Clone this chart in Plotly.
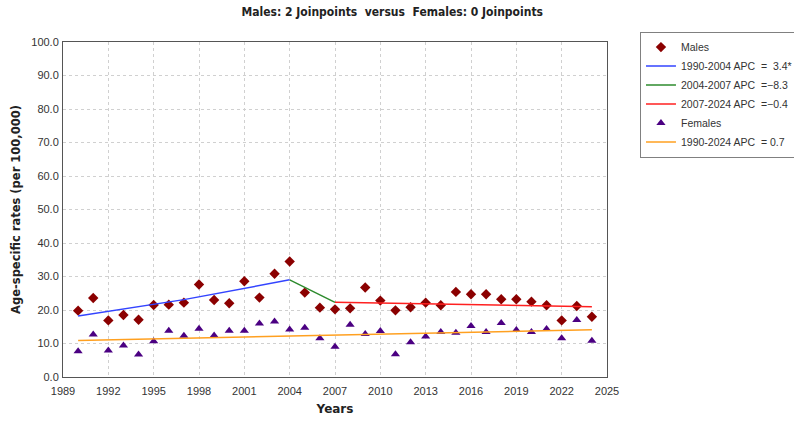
import plotly.graph_objects as go

years = list(range(1990, 2025))
males = [19.8, 23.6, 16.9, 18.5, 17.1, 21.5, 21.6, 22.2, 27.6, 23.0,
         22.0, 28.6, 23.7, 30.8, 34.5, 25.2, 20.7, 20.2, 20.5, 26.7,
         22.8, 19.9, 20.8, 22.2, 21.4, 25.4, 24.7, 24.7, 23.2, 23.2,
         22.5, 21.4, 16.9, 21.2, 18.0]
females = [7.7, 12.7, 7.9, 9.4, 6.7, 10.7, 13.8, 12.3, 14.4, 12.4,
           13.8, 13.8, 16.0, 16.6, 14.2, 14.7, 11.6, 9.0, 15.6, 12.8,
           13.7, 6.8, 10.4, 12.1, 13.4, 13.2, 15.2, 13.4, 16.1, 14.0,
           13.4, 14.3, 11.6, 17.0, 10.8]

# fitted joinpoint segments
seg1_x, seg1_y = [1990, 1997, 2004], [18.2, 23.1, 29.0]
seg2_x, seg2_y = [2004, 2007], [29.0, 22.3]
seg3_x, seg3_y = [2007, 2024], [22.3, 21.0]
fem_x, fem_y = [1990, 2024], [10.9, 14.1]

seg_names = ["1990-2004 APC  =  3.4*", "2004-2007 APC  =\u22128.3",
             "2007-2024 APC  =\u22120.4"]
fem_name = "1990-2024 APC  = 0.7"
x_ticks = list(range(1989, 2026, 3))

font_ticks = dict(family="Liberation Sans, Arial", size=11, color="#333333")

fig = go.Figure()
fig.add_trace(go.Scatter(x=years, y=males, mode="markers", name="Males",
                         marker=dict(symbol="diamond", size=8, color="#8B0000")))
fig.add_trace(go.Scatter(x=seg1_x, y=seg1_y, mode="lines", name=seg_names[0],
                         line=dict(color="#3344ff", width=1.5)))
fig.add_trace(go.Scatter(x=seg2_x, y=seg2_y, mode="lines", name=seg_names[1],
                         line=dict(color="#2e8b2e", width=1.5)))
fig.add_trace(go.Scatter(x=seg3_x, y=seg3_y, mode="lines", name=seg_names[2],
                         line=dict(color="#ff2020", width=1.5)))
fig.add_trace(go.Scatter(x=years, y=females, mode="markers", name="Females",
                         marker=dict(symbol="triangle-up", size=8, color="#4B0082")))
fig.add_trace(go.Scatter(x=fem_x, y=fem_y, mode="lines", name=fem_name,
                         line=dict(color="#FFA020", width=1.5)))

fig.update_layout(
    width=794, height=421,
    margin=dict(l=63, r=187, t=42, b=44, autoexpand=False),
    paper_bgcolor="white", plot_bgcolor="white",
    title=dict(text="<b>Males: 2 Joinpoints  versus  Females: 0 Joinpoints</b>",
               x=0.494, xref="container", xanchor="center",
               y=0.972, yanchor="middle",
               font=dict(family="DejaVu Sans Condensed, DejaVu Sans", size=12, color="#222222")),
    legend=dict(xref="container", yref="container", x=0.806, y=0.925,
                xanchor="left", yanchor="top",
                bordercolor="#808080", borderwidth=1, bgcolor="white",
                font=dict(family="Liberation Sans, Arial", size=10.5, color="#333333"),
                tracegroupgap=0, itemwidth=30),
    showlegend=True,
)
fig.update_xaxes(range=[1989, 2025], tickvals=x_ticks, ticktext=[str(t) for t in x_ticks],
                 showgrid=True, gridcolor="#d0d0d0", griddash="dot", gridwidth=1,
                 showline=True, linecolor="#555555", linewidth=1, mirror=True,
                 ticks="", ticklabelstandoff=4, tickfont=font_ticks, zeroline=False,
                 title=dict(text="<b>Years</b>", font=dict(family="DejaVu Sans", size=12, color="#222222"),
                            standoff=8))
fig.update_yaxes(range=[0, 100], dtick=10, tickformat=".1f",
                 showgrid=True, gridcolor="#d0d0d0", griddash="dot", gridwidth=1,
                 showline=True, linecolor="#555555", linewidth=1, mirror=True,
                 ticks="", ticklabelstandoff=1, tickfont=font_ticks, zeroline=False,
                 title=dict(text="<b>Age-specific rates (per 100,000)</b>",
                            font=dict(family="DejaVu Sans", size=11.5, color="#222222"),
                            standoff=8))

fig.write_html("out.html")
